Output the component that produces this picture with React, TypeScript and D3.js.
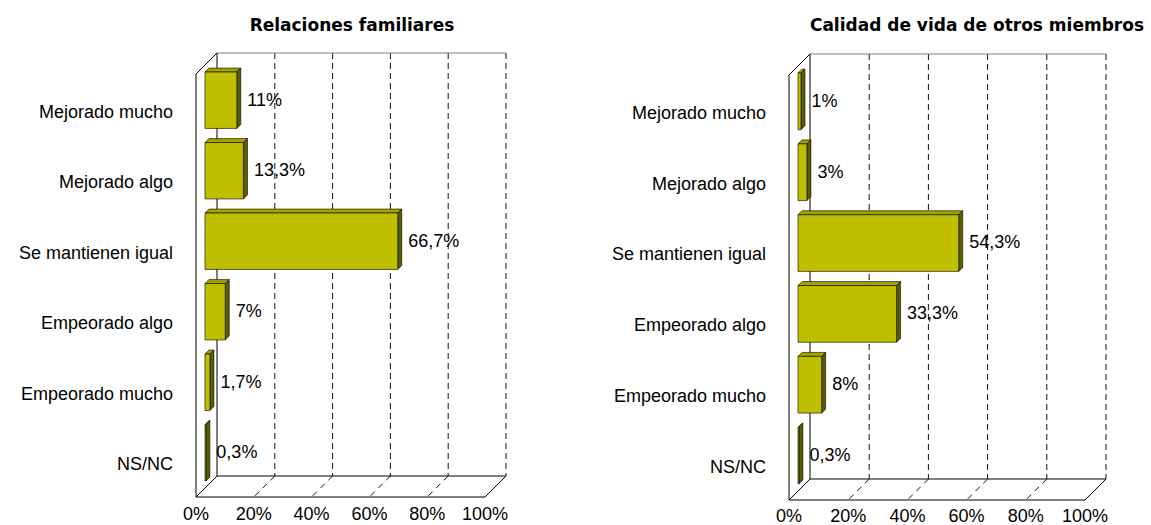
import React from 'react';
import * as d3 from 'd3';

const categories = [
  'Mejorado mucho',
  'Mejorado algo',
  'Se mantienen igual',
  'Empeorado algo',
  'Empeorado mucho',
  'NS/NC',
];
const relacionesValues = [11, 13.3, 66.7, 7, 1.7, 0.3];
const calidadValues = [1, 3, 54.3, 33.3, 8, 0.3];
const tickValues = [0, 20, 40, 60, 80, 100];
const tickLabels = ['0%', '20%', '40%', '60%', '80%', '100%'];

const W = 1151;
const H = 525;
// depth offset of the 3D box (front = back + offset)
const DX = -21;
const DY = 21;
const BAR_SHIFT = 9; // bar front face sits inside the depth
const BAR_DEPTH = 4;

const labelFont = 'Arial, "Liberation Sans", sans-serif';
const titleFont = 'Verdana, "DejaVu Sans", sans-serif';
const FS = 18;

const fmt = (v: number) => String(v).replace('.', ',') + '%';

type PanelProps = {
  title: string;
  values: number[];
  backLeft: number;
  backRight: number;
  backTop: number;
  backBottom: number;
  titleX: number;
  titleAnchor: string;
  tickDy: number;
};

const Panel = ({ title, values, backLeft, backRight, backTop, backBottom, titleX, titleAnchor, tickDy }: PanelProps) => {
  const x = d3.scaleLinear().domain([0, 100]).range([backLeft, backRight]);
  const y = d3
    .scaleBand<string>()
    .domain(categories)
    .range([backTop + DY, backBottom + DY])
    .paddingInner(0.2)
    .paddingOuter(0.1);

  const frontLeft = backLeft + DX;
  const frontBottom = backBottom + DY;
  const barX0 = frontLeft + BAR_SHIFT;

  return (
    <g>
      <text
        x={titleX}
        y={31}
        textAnchor={titleAnchor}
        fontFamily={titleFont}
        fontWeight="bold"
        fontSize={17}
        fill="#000"
      >
        {title}
      </text>

      {/* back wall grid */}
      {tickValues.slice(1).map((t) => (
        <line
          key={'g' + t}
          x1={x(t)}
          x2={x(t)}
          y1={backTop}
          y2={backBottom}
          stroke="#111"
          strokeDasharray="6,4"
        />
      ))}
      <line x1={backLeft} x2={backRight} y1={backTop} y2={backTop} stroke="#808080" />
      <line x1={backLeft} x2={backLeft} y1={backTop} y2={backBottom} stroke="#000" />

      {/* floor */}
      {tickValues.slice(1, -1).map((t) => (
        <line
          key={'f' + t}
          x1={x(t)}
          x2={x(t) + DX}
          y1={backBottom}
          y2={frontBottom}
          stroke="#111"
          strokeDasharray="6,5"
        />
      ))}
      <path
        d={`M${backLeft},${backBottom}L${backRight},${backBottom}L${backRight + DX},${frontBottom}L${frontLeft},${frontBottom}Z`}
        fill="none"
        stroke="#000"
      />

      {/* left wall */}
      <path
        d={`M${backLeft},${backTop}L${frontLeft},${backTop + DY}L${frontLeft},${frontBottom}`}
        fill="none"
        stroke="#000"
      />

      {/* bars */}
      {categories.map((c, i) => {
        const y0 = (y(c) as number) - BAR_SHIFT;
        const y1 = y0 + y.bandwidth();
        const x1 = barX0 + x(values[i]) - x(0);
        const d = BAR_DEPTH;
        return (
          <g key={c} stroke="#000" strokeWidth={0.6} strokeLinejoin="round">
            <path d={`M${barX0},${y0}L${barX0 + d},${y0 - d}L${x1 + d},${y0 - d}L${x1},${y0}Z`} fill="#a3a300" />
            <path d={`M${x1},${y0}L${x1 + d},${y0 - d}L${x1 + d},${y1 - d}L${x1},${y1}Z`} fill="#5c5c00" />
            <rect x={barX0} y={y0} width={x1 - barX0} height={y1 - y0} fill="#bfbf00" />
          </g>
        );
      })}

      {/* value labels */}
      {categories.map((c, i) => {
        const cy = (y(c) as number) - BAR_SHIFT + y.bandwidth() / 2;
        const x1 = barX0 + x(values[i]) - x(0);
        return (
          <text key={'v' + c} x={x1 + 10.5} y={cy - 1} dy="0.35em" fontFamily={labelFont} fontSize={FS} fill="#000">
            {fmt(values[i])}
          </text>
        );
      })}

      {/* category labels */}
      {categories.map((c) => (
        <text
          key={'c' + c}
          x={frontLeft - 23}
          y={(y(c) as number) + y.bandwidth() / 2 + 2}
          dy="0.35em"
          textAnchor="end"
          fontFamily={labelFont}
          fontSize={FS}
          fill="#000"
        >
          {c}
        </text>
      ))}

      {/* tick labels */}
      {tickValues.map((t, i) => (
        <text
          key={'t' + t}
          x={x(t) + DX}
          y={frontBottom + tickDy}
          textAnchor="middle"
          fontFamily={labelFont}
          fontSize={FS}
          fill="#000"
        >
          {tickLabels[i]}
        </text>
      ))}
    </g>
  );
};

export default function App() {
  return (
    <svg width={W} height={H} style={{ position: 'absolute', left: 0, top: 0, background: '#fff' }}>
      <rect width={W} height={H} fill="#fff" />
      <Panel
        title="Relaciones familiares"
        values={relacionesValues}
        backLeft={217}
        backRight={506}
        backTop={53}
        backBottom={476}
        titleX={352}
        titleAnchor="middle"
        tickDy={23}
      />
      <Panel
        title="Calidad de vida de otros miembros"
        values={calidadValues}
        backLeft={810}
        backRight={1106}
        backTop={54}
        backBottom={479}
        titleX={1144}
        titleAnchor="end"
        tickDy={22}
      />
    </svg>
  );
}
